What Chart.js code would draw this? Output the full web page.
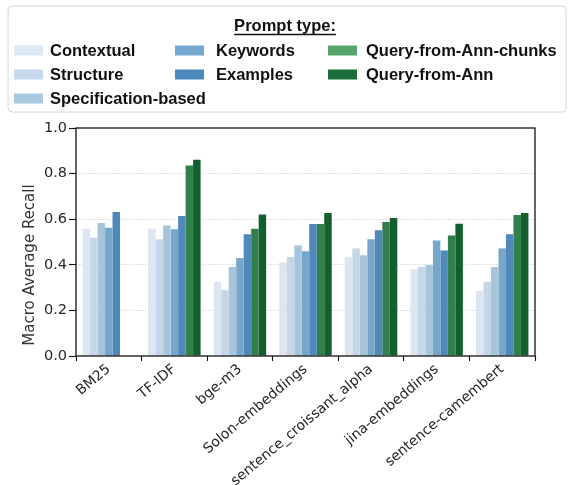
<!DOCTYPE html>
<html>
<head>
<meta charset="utf-8">
<script src="https://cdn.jsdelivr.net/npm/chart.js@4"></script>
<style>
  html, body { margin: 0; padding: 0; background: #ffffff; }
  canvas { display: block; }
</style>
</head>
<body>
<canvas id="chart" width="571" height="485"></canvas>
<script>
// Retrieval models on the x axis
const models = ['BM25', 'TF-IDF', 'bge-m3', 'Solon-embeddings', 'sentence_croissant_alpha', 'jina-embeddings', 'sentence-camembert'];

// Macro average recall per prompt type (null = not evaluated)
const contextual      = [0.558, 0.558, 0.325, 0.411, 0.433, 0.381, 0.285];
const structure       = [0.519, 0.512, 0.289, 0.434, 0.472, 0.390, 0.325];
const specification   = [0.583, 0.572, 0.390, 0.485, 0.442, 0.399, 0.390];
const keywords        = [0.563, 0.556, 0.430, 0.459, 0.512, 0.507, 0.472];
const examples        = [0.632, 0.614, 0.534, 0.579, 0.551, 0.463, 0.534];
const queryAnnChunks  = [null, 0.835, 0.558, 0.579, 0.588, 0.529, 0.618];
const queryAnn        = [null, 0.861, 0.621, 0.627, 0.605, 0.580, 0.627];

const promptTypes = ['Contextual', 'Structure', 'Specification-based', 'Keywords', 'Examples', 'Query-from-Ann-chunks', 'Query-from-Ann'];
const yTicks = [0.0, 0.2, 0.4, 0.6, 0.8, 1.0];

const seriesValues = [contextual, structure, specification, keywords, examples, queryAnnChunks, queryAnn];
const barColors    = ['#dbe6f1', '#c5d6e8', '#a6c5db', '#76a7ca', '#4f88b9', '#317f4a', '#135f2e'];
const swatchColors = ['#dce9f5', '#c7d9ee', '#a7cae0', '#73a8d0', '#4a88bd', '#58a56c', '#1c6d3b'];

// Legend grid: column-major, three columns
const legendCols = [
  { swatchX: 14,  textX: 50,  items: [0, 1, 2] },
  { swatchX: 175, textX: 216, items: [3, 4] },
  { swatchX: 328, textX: 366, items: [5, 6] }
];
const legendRowsY = [50.5, 74.5, 98.5];

const datasets = promptTypes.map((name, i) => ({
  label: name,
  data: seriesValues[i],
  backgroundColor: barColors[i],
  borderWidth: 0,
  categoryPercentage: 0.8,
  barPercentage: 1.0
}));

const decorations = {
  id: 'decorations',
  afterDraw(chart) {
    const { ctx, chartArea: a } = chart;
    ctx.save();

    // axes frame
    ctx.strokeStyle = '#111111';
    ctx.lineWidth = 1.3;
    ctx.strokeRect(a.left, a.top, a.right - a.left, a.bottom - a.top);

    // y axis title
    ctx.save();
    ctx.translate(30, 265);
    ctx.rotate(-Math.PI / 2);
    ctx.font = '15px "DejaVu Sans"';
    ctx.fillStyle = '#333333';
    ctx.textAlign = 'center';
    ctx.textBaseline = 'middle';
    ctx.fillText('Macro Average Recall', 0, 0);
    ctx.restore();

    // legend frame
    const bx = 8, by = 6, bw = 558, bh = 106, r = 4;
    ctx.beginPath();
    ctx.moveTo(bx + r, by);
    ctx.arcTo(bx + bw, by, bx + bw, by + bh, r);
    ctx.arcTo(bx + bw, by + bh, bx, by + bh, r);
    ctx.arcTo(bx, by + bh, bx, by, r);
    ctx.arcTo(bx, by, bx + bw, by, r);
    ctx.closePath();
    ctx.fillStyle = '#ffffff';
    ctx.fill();
    ctx.strokeStyle = '#d6d6d6';
    ctx.lineWidth = 1;
    ctx.stroke();

    // legend title, underlined
    ctx.font = 'bold 16.5px "Liberation Sans", Arial, sans-serif';
    ctx.fillStyle = '#111111';
    ctx.textAlign = 'center';
    ctx.textBaseline = 'alphabetic';
    const title = 'Prompt type:';
    const tw = ctx.measureText(title).width;
    ctx.fillText(title, 285, 31);
    ctx.beginPath();
    ctx.moveTo(285 - tw / 2, 34.5);
    ctx.lineTo(285 + tw / 2, 34.5);
    ctx.strokeStyle = '#111111';
    ctx.lineWidth = 1.4;
    ctx.stroke();

    // legend entries
    ctx.textAlign = 'left';
    ctx.textBaseline = 'middle';
    legendCols.forEach(col => {
      col.items.forEach((idx, row) => {
        const cy = legendRowsY[row];
        ctx.fillStyle = swatchColors[idx];
        ctx.fillRect(col.swatchX, cy - 5, 29, 10);
        ctx.fillStyle = '#111111';
        ctx.fillText(chart.data.datasets[idx].label, col.textX, cy + 0.5);
      });
    });

    ctx.restore();
  }
};

new Chart(document.getElementById('chart'), {
  type: 'bar',
  data: { labels: models, datasets },
  options: {
    responsive: false,
    animation: false,
    events: [],
    layout: { padding: { top: 128, right: 36, bottom: 0, left: 0 } },
    plugins: {
      legend: { display: false },
      title: { display: false },
      tooltip: { enabled: false }
    },
    scales: {
      x: {
        afterFit(scale) { scale.height = 129; },
        grid: {
          drawOnChartArea: false,
          drawTicks: true,
          tickLength: 5,
          tickColor: '#111111',
          tickWidth: 1.1
        },
        border: { display: false },
        ticks: {
          autoSkip: false,
          minRotation: 40,
          maxRotation: 40,
          padding: 0,
          color: '#262626',
          font: { family: '"DejaVu Sans"', size: 14 }
        }
      },
      y: {
        min: 0,
        max: 1,
        afterFit(scale) { scale.width = 76; },
        afterBuildTicks(scale) { scale.ticks = yTicks.map(v => ({ value: v })); },
        grid: {
          drawTicks: true,
          tickLength: 7,
          tickColor: '#111111',
          tickWidth: 1.1,
          tickBorderDash: [],
          lineWidth: 0.9,
          color: ctx => (ctx.tick && (ctx.tick.value === 0 || ctx.tick.value === 1)) ? 'rgba(0,0,0,0)' : '#d2d2d2'
        },
        border: { display: false, dash: [1.5, 1.5] },
        ticks: {
          padding: 2,
          color: '#262626',
          font: { family: '"DejaVu Sans"', size: 14.5 },
          callback: v => Number(v).toFixed(1)
        }
      }
    }
  },
  plugins: [decorations]
});
</script>
</body>
</html>
